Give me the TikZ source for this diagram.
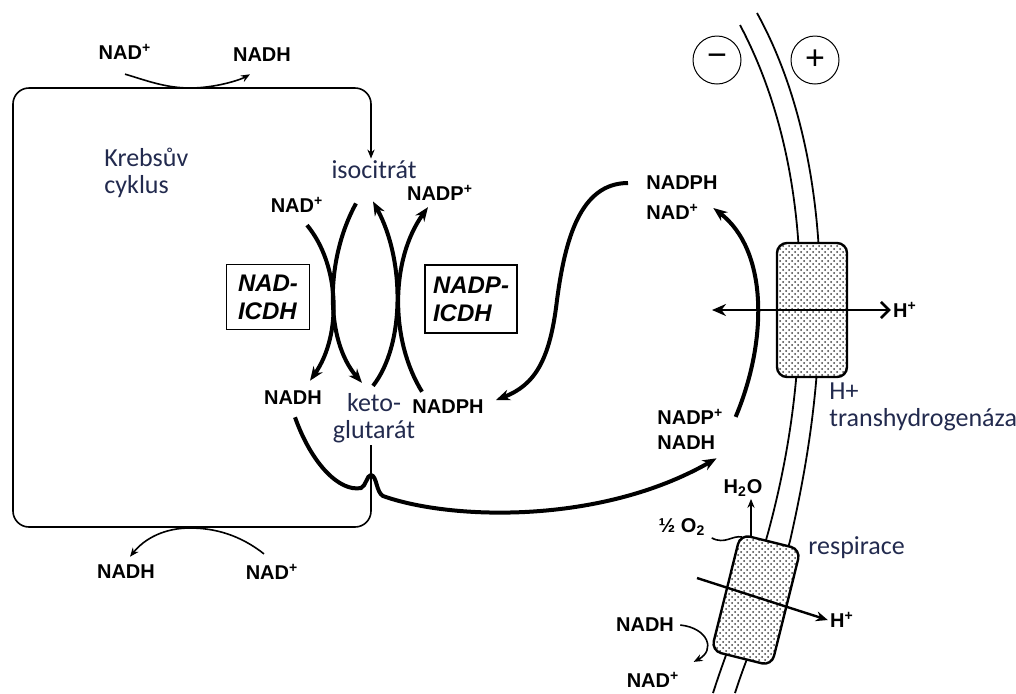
\documentclass[tikz,border=0pt]{standalone}
\usepackage{fontspec}
\setmainfont{Liberation Sans}
\newfontfamily\carlito{Carlito}
\usepackage{xcolor}
\definecolor{ink}{HTML}{222A4E}
\usetikzlibrary{arrows.meta,patterns,calc}
\tikzset{
  >={Stealth[length=4.5pt,width=3.6pt]},
  chem/.style   ={font=\bfseries\fontsize{10}{11}\selectfont,inner sep=1pt},
  note/.style   ={font=\carlito\fontsize{13}{13.5}\selectfont,text=ink,
                  inner sep=1pt,align=left},
  enzyme/.style ={draw,line width=0.7pt,inner sep=2pt,align=left,
                  font=\bfseries\itshape\fontsize{12}{14}\selectfont},
  charge/.style ={draw,circle,line width=0.5pt,minimum size=24pt,inner sep=0pt,
                  font=\fontsize{17}{17}\selectfont},
  protein/.style={draw,line width=1.2pt,rounded corners=5pt,preaction={fill=white},
                  pattern=crosshatch dots,pattern color=black!75},
  membrane/.style={line width=0.9pt},
  cycle/.style  ={line width=0.8pt,rounded corners=8pt},
  thin/.style   ={->,line width=0.8pt},
  heavy/.style  ={-{Stealth[length=7pt,width=5.5pt]},line width=2pt},
}
\begin{document}
\begin{tikzpicture}[x=0.5pt,y=-0.5pt]
\useasboundingbox (0,0) rectangle (1016,693);
% membrane
\draw[membrane] (740,25) .. controls (785,110) and (802,210) .. (800,310)
  .. controls (798,400) and (785,470) .. (768,533)
  .. controls (752,590) and (730,640) .. (713,693);
\draw[membrane] (757,13) .. controls (805,100) and (822,210) .. (820,310)
  .. controls (818,400) and (806,470) .. (790,541)
  .. controls (775,595) and (752,640) .. (735,693);
\node[charge] (minus) at (717,60) {−};
\node[charge] (plus) at (815,60) {+};
% labels
\node[chem] (nadtop) at (125,52) {NAD\textsuperscript{+}};
\node[chem] (nadhtop) at (262,55) {NADH};
\node[chem] (nadbot) at (272,572) {NAD\textsuperscript{+}};
\node[chem] (nadhbot) at (126,572) {NADH};
\node[note,anchor=north west] (krebs) at (102,146) {Krebsův\\cyklus};
\node[note] (iso) at (374,170) {isocitrát};
\node[note,align=center] (keto) at (374,418) {keto-\\glutarát};
\node[chem] (nadL) at (297,205) {NAD\textsuperscript{+}};
\node[chem] (nadpR) at (440,193) {NADP\textsuperscript{+}};
\node[chem] (nadhL) at (293,398) {NADH};
\node[chem] (nadphL) at (448,407) {NADPH};
\node[enzyme,minimum width=41.5pt,minimum height=32.5pt] (nadicdh) at (268,297) {NAD-\\ICDH};
\node[enzyme,minimum width=46pt,minimum height=34pt] (nadpicdh) at (471,299) {NADP-\\ICDH};
\node[chem,anchor=west] (nadphR) at (644,183) {NADPH};
\node[chem,anchor=west] (nadR) at (644,212) {NAD\textsuperscript{+}};
\node[chem,anchor=west] (nadpB) at (655,417) {NADP\textsuperscript{+}};
\node[chem,anchor=west] (nadhB) at (655,443) {NADH};
% krebs cycle loop
\draw[cycle,->] (keto.south -| 371,0) -- (371,527) -- (13,527) -- (13,88)
  -- (371,88) -- (iso.north -| 371,0);
\draw[thin] ([shift={(0pt,-6pt)}]nadtop.south) .. controls (145,80) and (165,88) .. (190,88)
  .. controls (215,88) and (240,80) .. ([shift={(-6pt,-5pt)}]nadhtop.south);
\draw[thin] ([shift={(-4pt,4pt)}]nadbot.north) .. controls (240,535) and (215,528) .. (190,528)
  .. controls (165,528) and (145,538) .. ([shift={(2pt,3pt)}]nadhbot.north);
% isocitrate dehydrogenases
\draw[heavy] ([shift={(5pt,-5pt)}]nadL.south) .. controls (340,265) and (342,335)
  .. ([shift={(8.5pt,4pt)}]nadhL.north);
\draw[heavy] ([shift={(-9pt,-11pt)}]iso.south) .. controls (325,260) and (325,340)
  .. ([shift={(-6pt,4pt)}]keto.north);
\draw[heavy] ([shift={(-0.5pt,2.5pt)}]keto.north) .. controls (405,345) and (405,260)
  .. ([shift={(-0.5pt,-10pt)}]iso.south);
\draw[heavy] ([shift={(-13pt,3pt)}]nadphL.north) .. controls (390,340) and (390,260)
  .. ([shift={(-6pt,-2pt)}]nadpR.south);
% exchange with transhydrogenase
\draw[heavy] ([xshift=-8pt]nadphR.west) .. controls (580,183) and (565,240) .. (557,300)
  .. controls (550,360) and (535,385) .. ([shift={(5pt,3.5pt)}]nadphL.east);
\draw[heavy] ([shift={(1pt,-5pt)}]nadhL.south) .. controls (312,465) and (340,492) .. (361,488)
  .. controls (366,486) and (367,475) .. (371,475)
  .. controls (377,476) and (376,492) .. (383,496)
  .. controls (450,520) and (600,525) .. ([shift={(-0.5pt,-3pt)}]nadhB.south east);
\draw[heavy] ([shift={(5pt,-5pt)}]nadpB.north east) .. controls (768,340) and (768,250)
  .. ([shift={(6pt,2pt)}]nadR.east);
% transhydrogenase
\node[protein,minimum width=35pt,minimum height=67pt] (thd) at (812,310) {};
\node[chem] (hp1) at (905,310) {H\textsuperscript{+}};
\draw[line width=1.3pt,{Stealth[length=7pt,width=6pt]}-{Straight Barb[length=4pt,width=8pt]}]
  (712,310) -- (hp1.west);
\node[note,anchor=north west] (thlbl) at (827,380) {H+\\transhydrogenáza};
% respiration
\node[protein,minimum width=31pt,minimum height=60pt,rotate=-14] (resp) at (756,600) {};
\node[note,anchor=west] (resplbl) at (806,548) {respirace};
\node[chem] (h2o) at (743,488) {H\textsubscript{2}O};
\node[chem] (halfo) at (682,527) {½ O\textsubscript{2}};
\node[chem] (hp2) at (842,620) {H\textsuperscript{+}};
\node[chem] (nadhR) at (645,625) {NADH};
\node[chem] (nadRb) at (653,680) {NAD\textsuperscript{+}};
\draw[thin] (751,536) -- (h2o.south -| 751,0);
\draw[line width=0.8pt] ([xshift=2pt]halfo.south east) .. controls (725,545) and (732,535) .. (742,537);
\draw[line width=1.2pt,-{Stealth[length=6pt,width=5pt]}] (697,578) -- (hp2.west);
\draw[thin] ([xshift=2pt]nadhR.east) .. controls (708,628) and (716,650) .. ([shift={(6pt,4pt)}]nadRb.north east);
\end{tikzpicture}
\end{document}
